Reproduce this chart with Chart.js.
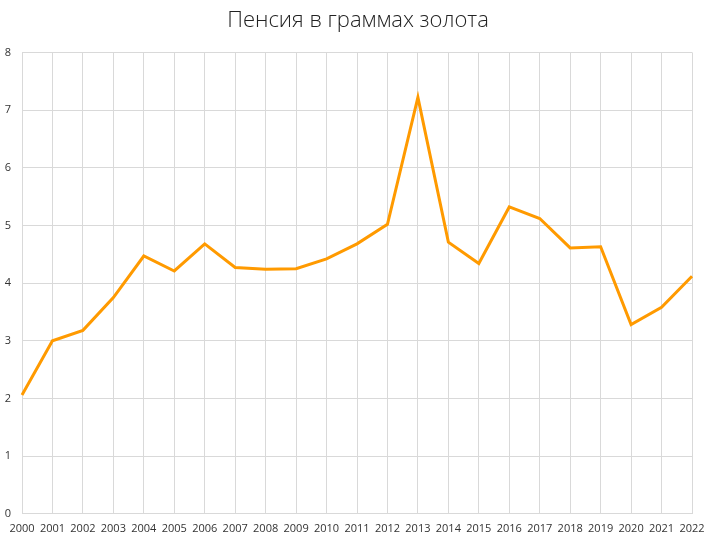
<!DOCTYPE html>
<html>
<head>
<meta charset="utf-8">
<script src="https://cdn.jsdelivr.net/npm/chart.js@4"></script>
<style>
html,body{margin:0;padding:0;background:#fff;}
#wrap{width:716px;height:543px;}
</style>
</head>
<body>
<div id="wrap"><canvas id="c" width="716" height="543"></canvas></div>
<script>
const titleText = "Пенсия в граммах золота";
const years = ["2000","2001","2002","2003","2004","2005","2006","2007","2008","2009","2010","2011","2012","2013","2014","2015","2016","2017","2018","2019","2020","2021","2022"];
const pensionGold = [2.06,3.00,3.18,3.75,4.47,4.21,4.68,4.27,4.24,4.25,4.42,4.68,5.02,7.22,4.71,4.34,5.32,5.12,4.61,4.63,3.28,3.58,4.12];
const yTicks = [0,1,2,3,4,5,6,7,8];

new Chart(document.getElementById('c'), {
  type: 'line',
  data: {
    labels: years,
    datasets: [{
      data: pensionGold,
      borderColor: '#ff9a00',
      borderWidth: 3,
      pointRadius: 0,
      tension: 0,
      fill: false
    }]
  },
  options: {
    responsive: false,
    animation: false,
    devicePixelRatio: 1,
    layout: { padding: { left: 0, right: 0, top: 0, bottom: 0 } },
    plugins: {
      legend: { display: false },
      tooltip: { enabled: false },
      title: {
        display: true,
        text: titleText,
        color: '#222',
        font: { family: 'Open Sans', size: 22, weight: '300' },
        padding: { top: 8, bottom: 18 }
      }
    },
    scales: {
      x: {
        afterFit: (s) => { s.paddingRight = 24; s.paddingLeft = 14; },
        grid: { color: '#d9d9d9', drawTicks: false },
        border: { color: '#d9d9d9' },
        ticks: { color: '#333', font: { family: 'Open Sans', size: 11 }, padding: 8, maxRotation: 0, autoSkip: false }
      },
      y: {
        min: 0, max: 8,
        afterBuildTicks: (s) => { s.ticks = yTicks.map(v => ({ value: v })); },
        afterFit: (s) => { s.width = 22; },
        grid: { color: '#d9d9d9', drawTicks: false },
        border: { display: false },
        ticks: { color: '#333', font: { family: 'Open Sans', size: 11 }, padding: 11 }
      }
    }
  }
});
</script>
</body>
</html>
